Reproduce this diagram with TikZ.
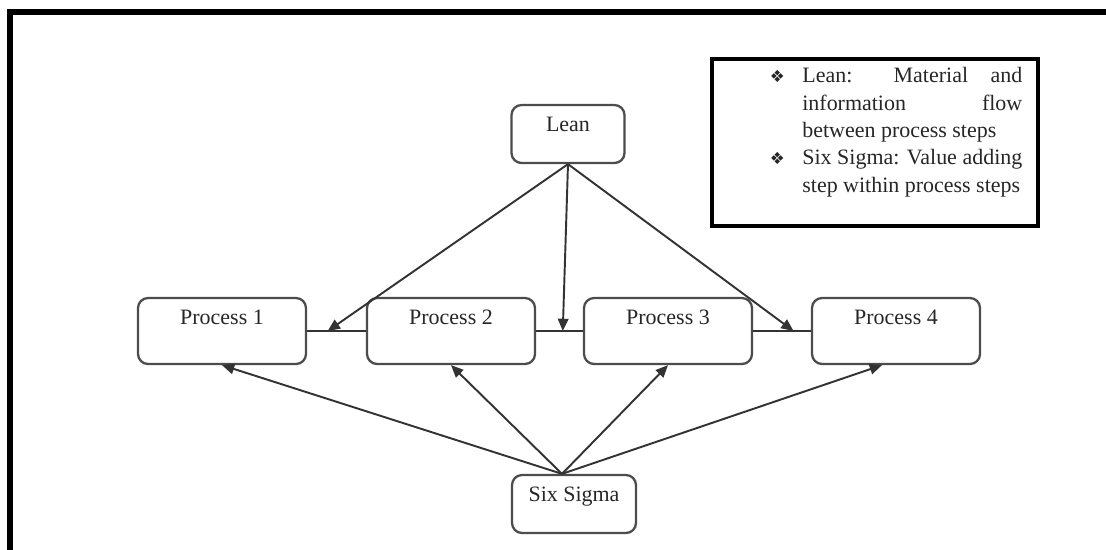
\documentclass[tikz,border=0pt]{standalone}
\usepackage{fontspec}
\setmainfont{Liberation Serif}
\newfontfamily\symfont{DejaVu Sans}
\usetikzlibrary{arrows.meta,calc}

\tikzset{
  stepbox/.style={draw=black!70, line width=1.3pt, rounded corners=0.2cm, fill=white,
    inner sep=4pt, text height=11pt, text=black!85, font=\fontsize{12.5}{15}\selectfont},
  procbox/.style={stepbox, minimum width=3.36cm, minimum height=1.32cm, text depth=18.5pt},
  endbox/.style={stepbox, minimum height=1.16cm, text depth=14pt},
  link/.style={draw=black!80, line width=1.1pt},
  flow/.style={link, -{Triangle[length=7pt,width=6pt]}}
}
\newcommand{\notebullet}{\noindent\llap{\symfont\fontsize{9.5}{9.5}\selectfont ❖\hspace{10pt}}}

\begin{document}
\begin{tikzpicture}[x=0.02cm, y=-0.02cm]
        \useasboundingbox (0,0) rectangle (1106,549);
        \clip (0,0) rectangle (1106,549);
        % frame
        \draw[line width=3.4pt] (10,570) -- (10,12) -- (1130,12);

        % legend
        \node[draw, line width=2.8pt, minimum width=6.52cm, minimum height=3.34cm] (legend) at (875,142.5) {};
        \node[anchor=north west, inner sep=0pt, text width=4.4cm, align=justify,
              font=\fontsize{12.5}{15.6}\selectfont, text=black!85] (notes) at (802,67)
              {\notebullet Lean: Material and\linebreak information flow\linebreak between process steps\par
               \notebullet Six Sigma: Value adding\linebreak step within process steps};

        % boxes
        \node[endbox, minimum width=2.26cm] (lean) at (568,134) {Lean};
        \node[procbox] (p1) at (222,331) {Process 1};
        \node[procbox] (p2) at (451,331) {Process 2};
        \node[procbox] (p3) at (668,331) {Process 3};
        \node[procbox] (p4) at (896,331) {Process 4};
        \node[endbox, minimum width=2.48cm] (six) at (574,504) {Six Sigma};

        % process chain
        \draw[link] (p1.east) -- (p2.west);
        \draw[link] (p2.east) -- (p3.west);
        \draw[link] (p3.east) -- (p4.west);

        % lean: between steps
        \draw[flow] (lean.south) -- ($(p1.east)!0.35!(p2.west)$);
        \draw[flow] (lean.south) -- ($(p2.east)!0.57!(p3.west)$);
        \draw[flow] (lean.south) -- ($(p3.east)!0.7!(p4.west)$);

        % six sigma: within steps
        \coordinate (sstop) at ([xshift=-0.24cm]six.north);
        \foreach \p/\dx in {p1/0,p2/0,p3/0,p4/-0.28}
            \draw[flow] (sstop) -- ([xshift=\dx cm]\p.south);
    \end{tikzpicture}
\end{document}
